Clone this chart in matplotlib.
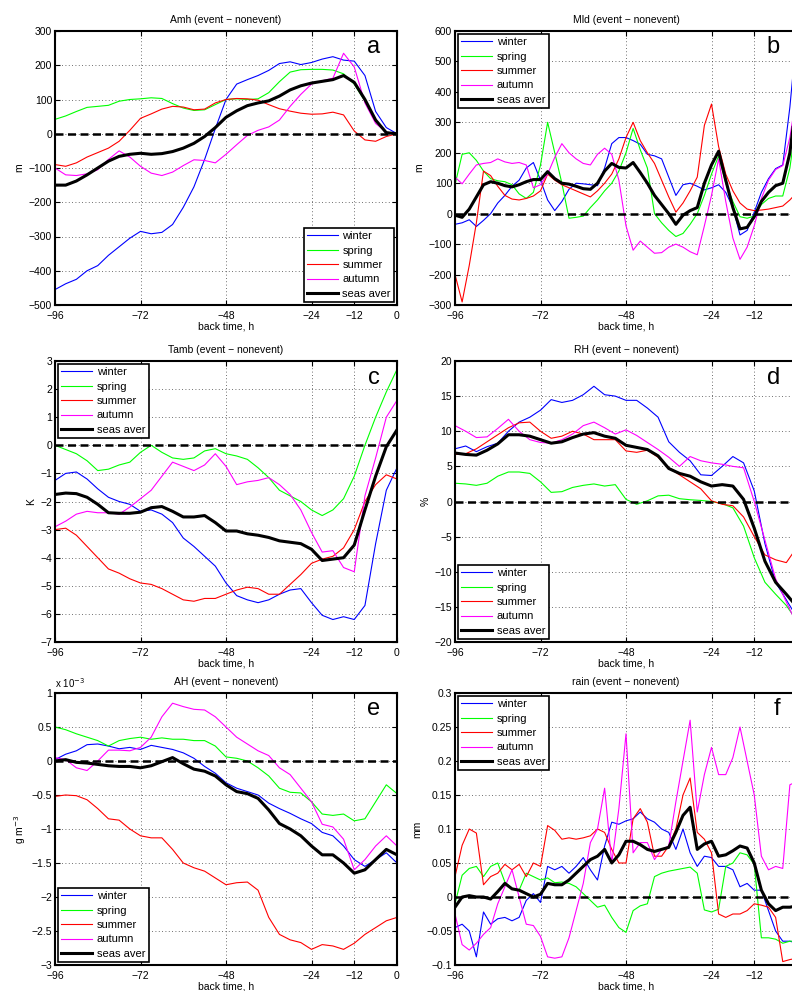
"""
Six panels of seasonal event - nonevent differences vs back time (a-f).
"""
import numpy as np
import matplotlib
matplotlib.use("Agg")
import matplotlib.pyplot as plt
from matplotlib.ticker import FuncFormatter

plt.rcParams['font.family'] = ['Liberation Sans', 'DejaVu Sans']

# back time [h]: 3 h steps (a, c, d, e), 2 h steps (b, f)
T3 = list(range(-96, 1, 3))
T2 = list(range(-96, 1, 2))

# ---- (a) Amh [m] ----
amh_winter = [-455, -438, -425, -400, -385, -355, -330, -305, -285, -292, -288, -265, -215, -155, -75, 15, 100,
              145, 158, 170, 185, 205, 210, 202, 208, 218, 225, 215, 212, 170, 65, 18, 0]
amh_spring = [42, 52, 65, 77, 80, 83, 95, 100, 102, 105, 103, 88, 75, 68, 70, 85, 100,
              102, 100, 102, 120, 152, 180, 187, 188, 188, 186, 175, 145, 95, 35, 5, 0]
amh_summer = [-90, -95, -85, -68, -55, -42, -22, 10, 45, 58, 72, 80, 78, 70, 72, 90, 100,
              103, 102, 98, 85, 73, 66, 60, 57, 58, 63, 55, 8, -18, -22, -8, 0]
amh_autumn = [-100, -120, -122, -117, -105, -75, -50, -68, -95, -115, -122, -112, -93, -76, -78, -85, -60,
              -32, -5, 10, 20, 40, 80, 115, 145, 155, 162, 235, 195, 90, 30, 5, 0]
amh_aver = [-150, -150, -138, -120, -100, -80, -66, -60, -57, -60, -58, -52, -42, -28, -8, 18, 48,
            67, 82, 90, 96, 110, 128, 140, 148, 153, 158, 170, 150, 100, 40, 3, 0]

# ---- (b) Mld [m] ----
mld_winter = [-35, -30, -20, -42, -22, 0, 35, 60, 90, 110, 150, 168, 110, 45, 10, 40, 80, 100, 98, 95, 92,
              150, 230, 250, 250, 240, 228, 195, 190, 180, 120, 60, 95, 100, 90, 78, 85, 95, 70, 20,
              -70, -55, 5, 70, 115, 148, 160, 350, 600]
mld_spring = [95, 195, 200, 175, 140, 115, 108, 105, 95, 65, 50, 70, 160, 300, 200, 100, -15, -12, -8, 20, 45,
              75, 100, 140, 200, 280, 210, 150, 0, -30, -55, -75, -65, -35, 0, 60, 130, 190, 100, 40,
              -10, -15, -8, 30, 50, 58, 58, 150, 320]
mld_summer = [-200, -290, -170, -30, 140, 125, 90, 60, 48, 45, 50, 58, 75, 130, 110, 95, 85, 75, 65, 55, 75,
              100, 130, 180, 250, 300, 240, 200, 165, 110, 55, 5, 35, 75, 120, 290, 360, 220, 130, 75,
              35, 15, 10, 12, 15, 20, 25, 45, 70]
mld_autumn = [120, 98, 130, 160, 165, 168, 180, 170, 165, 168, 160, 85, 95, 130, 185, 230, 200, 180, 165, 160, 195,
              215, 195, 110, -40, -120, -90, -110, -130, -128, -110, -100, -110, -125, -135, -40, 60, 180, 40, -80,
              -150, -110, -40, 50, 110, 145, 158, 250, 400]
mld_aver = [-5, -12, 15, 55, 95, 105, 100, 92, 88, 95, 105, 112, 112, 138, 115, 100, 97, 90, 82, 80, 100,
            140, 165, 152, 150, 168, 135, 100, 60, 30, 0, -35, -5, 10, 20, 100, 160, 205, 110, 20,
            -50, -45, -10, 40, 70, 92, 100, 200, 390]

# ---- (c) Tamb [K] ----
tamb_winter = [-1.25, -1.0, -0.95, -1.2, -1.55, -1.85, -2.0, -2.1, -2.35, -2.3, -2.45, -2.75, -3.3, -3.6, -3.95, -4.3, -4.9,
               -5.35, -5.5, -5.6, -5.5, -5.3, -5.15, -5.1, -5.6, -6.05, -6.2, -6.1, -6.2, -5.7, -3.5, -1.6, -0.8]
tamb_spring = [0.0, -0.15, -0.3, -0.55, -0.9, -0.85, -0.7, -0.6, -0.25, 0.0, -0.25, -0.45, -0.5, -0.45, -0.2, -0.12, -0.3,
               -0.38, -0.5, -0.8, -1.15, -1.6, -1.8, -2.0, -2.3, -2.5, -2.3, -1.9, -1.1, 0.0, 1.0, 1.9, 2.7]
tamb_summer = [-3.0, -2.95, -3.2, -3.6, -4.0, -4.4, -4.55, -4.75, -4.9, -4.95, -5.1, -5.3, -5.5, -5.55, -5.45, -5.45, -5.3,
               -5.15, -5.05, -5.1, -5.3, -5.3, -4.95, -4.6, -4.2, -4.05, -3.95, -3.65, -3.0, -2.0, -1.4, -1.05, -1.2]
tamb_autumn = [-2.9, -2.7, -2.45, -2.35, -2.4, -2.4, -2.45, -2.2, -1.9, -1.6, -1.1, -0.6, -0.75, -0.9, -0.7, -0.3, -0.75,
               -1.4, -1.3, -1.25, -1.15, -1.4, -1.75, -2.3, -3.1, -3.8, -3.75, -4.35, -4.5, -1.8, -0.45, 1.0, 1.6]
tamb_aver = [-1.75, -1.7, -1.72, -1.85, -2.1, -2.4, -2.42, -2.42, -2.38, -2.22, -2.18, -2.35, -2.55, -2.55, -2.5, -2.75, -3.05,
             -3.05, -3.15, -3.2, -3.28, -3.4, -3.45, -3.5, -3.7, -4.1, -4.05, -4.0, -3.55, -2.3, -1.1, -0.05, 0.55]

# ---- (d) RH [%] ----
rh_winter = [7.5, 7.9, 7.1, 7.8, 8.3, 10.0, 11.3, 12.0, 13.0, 14.5, 14.1, 14.4, 15.2, 16.4, 15.2, 15.0, 14.4,
             14.4, 13.3, 12.0, 8.5, 7.0, 5.8, 3.8, 3.7, 5.0, 6.4, 5.5, 1.5, -6.0, -11.5, -14.0, -16.5]
rh_spring = [2.6, 2.5, 2.3, 2.6, 3.6, 4.2, 4.2, 4.0, 2.8, 1.3, 1.4, 2.0, 2.3, 2.5, 2.2, 2.4, 0.3,
             -0.4, 0.1, 0.8, 0.9, 0.4, 0.25, 0.15, 0.0, -0.3, -0.9, -3.5, -8.0, -11.5, -13.2, -14.8, -17.0]
rh_summer = [6.7, 6.8, 7.5, 8.5, 9.5, 10.5, 11.2, 11.3, 10.0, 9.0, 9.3, 10.0, 9.6, 8.8, 8.8, 8.8, 7.2,
             7.0, 7.3, 6.3, 4.8, 3.8, 2.8, 1.8, 0.1, -0.4, -0.6, -2.2, -5.0, -7.6, -8.3, -8.7, -6.5]
rh_autumn = [10.8, 10.0, 9.1, 9.2, 10.4, 11.7, 10.0, 8.8, 8.4, 8.3, 8.8, 9.6, 10.8, 11.3, 10.5, 9.6, 10.2,
             9.4, 8.4, 7.4, 6.3, 5.0, 6.4, 5.8, 5.5, 5.3, 5.0, 4.8, 0.0, -5.5, -11.0, -14.3, -17.5]
rh_aver = [6.9, 6.7, 6.6, 7.3, 8.2, 9.5, 9.5, 9.3, 8.8, 8.3, 8.5, 9.1, 9.6, 9.8, 9.3, 9.0, 8.0,
           7.7, 7.4, 6.5, 4.7, 4.0, 3.6, 2.8, 2.2, 2.4, 2.2, 0.3, -3.8, -8.5, -11.5, -13.2, -15.0]

# ---- (e) AH [1e-3 g m-3] ----
ah_winter = [0.02, 0.1, 0.15, 0.24, 0.25, 0.22, 0.18, 0.2, 0.17, 0.23, 0.2, 0.17, 0.12, 0.04, -0.08, -0.18, -0.32,
             -0.4, -0.45, -0.5, -0.62, -0.7, -0.77, -0.85, -0.92, -1.05, -1.1, -1.25, -1.45, -1.55, -1.45, -1.35, -1.5]
ah_spring = [0.5, 0.46, 0.4, 0.35, 0.3, 0.22, 0.3, 0.33, 0.35, 0.32, 0.34, 0.32, 0.32, 0.3, 0.3, 0.22, 0.06,
             0.04, 0.0, -0.1, -0.22, -0.4, -0.46, -0.47, -0.6, -0.78, -0.8, -0.78, -0.88, -0.85, -0.6, -0.35, -0.48]
ah_summer = [-0.52, -0.5, -0.51, -0.57, -0.7, -0.85, -0.87, -1.0, -1.1, -1.13, -1.13, -1.3, -1.5, -1.57, -1.62, -1.72, -1.82,
             -1.79, -1.78, -1.9, -2.3, -2.55, -2.63, -2.67, -2.77, -2.7, -2.72, -2.77, -2.68, -2.55, -2.45, -2.35, -2.3]
ah_autumn = [0.05, 0.02, -0.1, -0.14, 0.0, 0.16, 0.16, 0.15, 0.2, 0.35, 0.65, 0.85, 0.8, 0.76, 0.75, 0.65, 0.5,
             0.35, 0.25, 0.15, 0.08, -0.1, -0.2, -0.4, -0.6, -0.93, -0.97, -1.15, -1.6, -1.45, -1.25, -1.1, -1.25]
ah_aver = [0.0, 0.02, -0.02, -0.03, -0.05, -0.07, -0.08, -0.08, -0.1, -0.07, -0.01, 0.05, -0.04, -0.12, -0.15, -0.22, -0.35,
           -0.45, -0.48, -0.55, -0.72, -0.92, -1.0, -1.1, -1.25, -1.38, -1.38, -1.5, -1.65, -1.6, -1.45, -1.3, -1.38]

# ---- (f) rain [mm] ----
rain_winter = [-0.045, -0.04, -0.05, -0.088, -0.022, -0.04, -0.032, -0.03, -0.035, -0.03, -0.005, 0.005, -0.008,
               0.045, 0.04, 0.045, 0.035, 0.045, 0.058, 0.04, 0.025, 0.075, 0.11, 0.107, 0.112, 0.115, 0.125,
               0.115, 0.11, 0.1, 0.095, 0.07, 0.1, 0.065, 0.045, 0.06, 0.058, 0.045, 0.045, 0.04, 0.015,
               0.02, 0.01, 0.01, -0.02, -0.05, -0.065, -0.065, -0.068]
rain_spring = [-0.01, 0.032, 0.042, 0.045, 0.03, 0.045, 0.05, 0.022, 0.012, 0.01, 0.035, 0.03, 0.025,
               0.028, 0.021, 0.022, 0.02, 0.015, 0.005, -0.005, -0.015, -0.012, -0.03, -0.045, -0.052, -0.02, -0.013,
               -0.01, 0.03, 0.035, 0.038, 0.04, 0.042, 0.044, 0.035, -0.019, -0.022, -0.018, 0.045, 0.05, 0.065,
               0.062, 0.048, -0.06, -0.06, -0.062, -0.068, -0.065, -0.065]
rain_summer = [0.03, 0.076, 0.1, 0.094, 0.018, 0.03, 0.035, 0.048, 0.04, 0.048, 0.03, 0.05, 0.045,
               0.105, 0.098, 0.085, 0.087, 0.085, 0.087, 0.09, 0.1, 0.095, 0.07, 0.05, 0.05, 0.115, 0.13,
               0.11, 0.06, 0.06, 0.075, 0.1, 0.15, 0.175, 0.095, 0.085, 0.065, -0.025, -0.03, -0.025, -0.025,
               -0.02, -0.01, -0.012, -0.015, -0.03, -0.095, -0.092, -0.09]
rain_autumn = [-0.025, -0.07, -0.078, -0.068, -0.055, -0.045, -0.01, 0.015, 0.04, 0.0, -0.04, -0.042, -0.058,
               -0.088, -0.09, -0.088, -0.06, -0.02, 0.02, 0.08, 0.1, 0.16, 0.05, 0.13, 0.24, 0.065, 0.08,
               0.08, 0.055, 0.07, 0.075, 0.14, 0.2, 0.26, 0.125, 0.18, 0.22, 0.18, 0.18, 0.205, 0.25,
               0.2, 0.15, 0.06, 0.04, 0.045, 0.042, 0.165, 0.17]
rain_aver = [-0.015, 0.0, 0.002, 0.0, 0.0, -0.003, 0.008, 0.02, 0.012, 0.01, 0.005, 0.0, 0.004,
             0.02, 0.018, 0.018, 0.025, 0.035, 0.045, 0.055, 0.06, 0.07, 0.05, 0.062, 0.082, 0.082, 0.077,
             0.07, 0.067, 0.07, 0.073, 0.095, 0.12, 0.132, 0.07, 0.078, 0.082, 0.06, 0.062, 0.068, 0.075,
             0.072, 0.05, 0.01, -0.01, -0.02, -0.015, -0.015, -0.013]

LABELS = ["winter", "spring", "summer", "autumn", "seas aver"]
COLORS = ["#0000ff", "#00ff00", "#ff0000", "#ff00ff", "k"]
XTICKS = [-96, -72, -48, -24, -12, 0]

W, H = 792, 991
COL_X = [55, 455]            # left edge of each column [px]
AX_W = 342                   # right column runs past the image edge, as in the original
ROWS = [(31, 305), (361, 642), (693, 965)]   # (top, bottom) [px]


def fmt(v, pos):
    return ("%g" % v).replace("-", "\u2212")


def panel(ax, t, series, title, ylabel, ylim, yticks, letter, legloc, show_x0=True):
    for y, lab, c in zip(series, LABELS, COLORS):
        black = (c == "k")
        ax.plot(t, y, color=c, lw=2.2 if black else 0.8, label=lab, zorder=3 if black else 2)
    ax.plot([-96, 0], [0, 0], color="k", lw=1.8, dashes=(3.2, 1.8), zorder=4)
    ax.set_xlim(-96, 0)
    ax.set_ylim(*ylim)
    ax.set_xticks(XTICKS)
    ax.set_xticklabels([fmt(v, 0) if (v != 0 or show_x0) else "" for v in XTICKS])
    ax.set_yticks(yticks)
    ax.yaxis.set_major_formatter(FuncFormatter(fmt))
    ax.grid(True, ls=(0, (1, 3)), color="0.25", lw=0.6)
    ax.tick_params(direction="in", top=True, right=True, length=3.5, width=0.8,
                   labelsize=7.5, pad=2)
    ax.tick_params(axis="x", pad=4)
    for sp in ax.spines.values():
        sp.set_linewidth(1.5)
    ax.set_title(title, fontsize=7.5, pad=6)
    ax.set_xlabel("back time, h", fontsize=7.5, labelpad=1)
    ax.set_ylabel(ylabel, fontsize=7.5, labelpad=3)
    ax.text(0.95, 0.94, letter, transform=ax.transAxes, fontsize=17,
            ha="right", va="center")
    leg = ax.legend(loc=legloc, fontsize=8, handlelength=2.8, handletextpad=0.4,
                    labelspacing=0.4, borderpad=0.3, borderaxespad=0.25,
                    fancybox=False, framealpha=1)
    leg.get_frame().set_edgecolor("k")
    leg.get_frame().set_linewidth(1.2)
    return ax


fig = plt.figure(figsize=(W / 100, H / 100), dpi=100)
axes = []
for r, (top, bot) in enumerate(ROWS):
    for c, x0 in enumerate(COL_X):
        ax = fig.add_axes([x0 / W, 1 - bot / H, AX_W / W, (bot - top) / H])
        axes.append(ax)

panel(axes[0], T3, [amh_winter, amh_spring, amh_summer, amh_autumn, amh_aver],
      "Amh (event \u2212 nonevent)", "m", (-500, 300), range(-500, 301, 100), "a", "lower right")
panel(axes[1], T2, [mld_winter, mld_spring, mld_summer, mld_autumn, mld_aver],
      "Mld (event \u2212 nonevent)", "m", (-300, 600), range(-300, 601, 100), "b", "upper left",
      show_x0=False)
panel(axes[2], T3, [tamb_winter, tamb_spring, tamb_summer, tamb_autumn, tamb_aver],
      "Tamb (event \u2212 nonevent)", "K", (-7, 3), range(-7, 4), "c", "upper left")
panel(axes[3], T3, [rh_winter, rh_spring, rh_summer, rh_autumn, rh_aver],
      "RH (event \u2212 nonevent)", "%", (-20, 20), range(-20, 21, 5), "d", "lower left",
      show_x0=False)
panel(axes[4], T3, [ah_winter, ah_spring, ah_summer, ah_autumn, ah_aver],
      "AH (event \u2212 nonevent)", "g m$^{-3}$", (-3, 1), np.arange(-3, 1.01, 0.5), "e", "lower left")
panel(axes[5], T2, [rain_winter, rain_spring, rain_summer, rain_autumn, rain_aver],
      "rain (event \u2212 nonevent)", "mm", (-0.1, 0.3), np.arange(-0.1, 0.301, 0.05), "f", "upper left",
      show_x0=False)

axes[4].text(0.0, 1.012, "x 10$^{\u22123}$", transform=axes[4].transAxes, fontsize=7,
             ha="left", va="bottom")

fig.savefig("out.png", dpi=100)
